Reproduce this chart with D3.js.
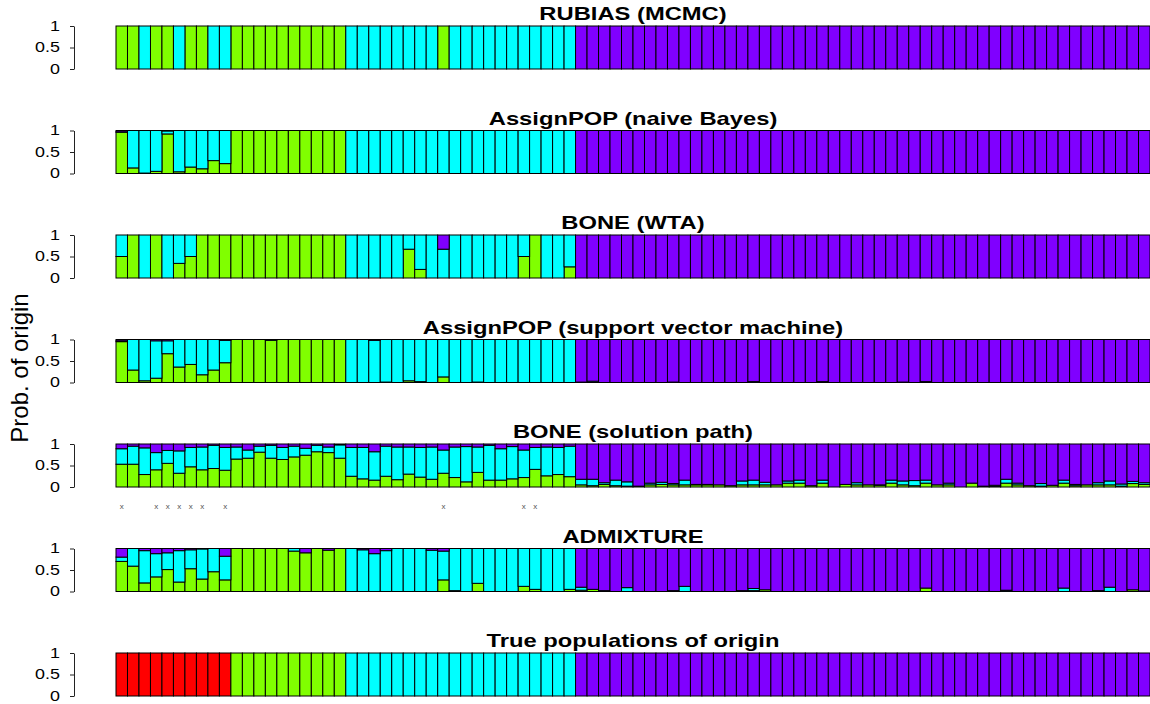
<!DOCTYPE html>
<html>
<head>
<meta charset="utf-8">
<script src="https://cdn.jsdelivr.net/npm/d3@7"></script>
<style>
  body { margin: 0; background: #fff; }
  svg { display: block; }
</style>
</head>
<body>
<svg id="chart" width="1150" height="704"></svg>
<script>
// ---- Individuals and their true populations (0 = red, 1 = green, 2 = cyan, 3 = purple) ----
const truePop = [
  0,0,0,0,0,0,0,0,0,0,
  1,1,1,1,1,1,1,1,1,1,
  2,2,2,2,2,2,2,2,2,2, 2,2,2,2,2,2,2,2,2,2,
  3,3,3,3,3,3,3,3,3,3, 3,3,3,3,3,3,3,3,3,3,
  3,3,3,3,3,3,3,3,3,3, 3,3,3,3,3,3,3,3,3,3,
  3,3,3,3,3,3,3,3,3,3
];
const individuals = truePop.map((p, i) => i);

// ---- Posterior membership (green and cyan shares; purple takes the rest) ----
const rubiasGreen = [
  1,1,0,1,1,0,1,1,0,0,
  1,1,1,1,1,1,1,1,1,1,
  0,0,0,0,0,0,0,0,1,0, 0,0,0,0,0,0,0,0,0,0,
  0,0,0,0,0,0,0,0,0,0, 0,0,0,0,0,0,0,0,0,0, 0,0,0,0,0,0,0,0,0,0,
  0,0,0,0,0,0,0,0,0,0, 0,0,0,0,0,0,0,0,0,0
];
const rubiasCyan = [
  0,0,1,0,0,1,0,0,1,1,
  0,0,0,0,0,0,0,0,0,0,
  1,1,1,1,1,1,1,1,0,1, 1,1,1,1,1,1,1,1,1,1,
  0,0,0,0,0,0,0,0,0,0, 0,0,0,0,0,0,0,0,0,0, 0,0,0,0,0,0,0,0,0,0,
  0,0,0,0,0,0,0,0,0,0, 0,0,0,0,0,0,0,0,0,0
];

const nbGreen = [
  0.96,0.13,0.01,0.05,0.92,0.04,0.15,0.11,0.30,0.23,
  1,1,1,1,1,1,1,1,1,1,
  0,0,0,0,0,0,0,0,0,0, 0,0,0,0,0,0,0,0,0,0,
  0,0,0,0,0,0,0,0,0,0, 0,0,0,0,0,0,0,0,0,0, 0,0,0,0,0,0,0,0,0,0,
  0,0,0,0,0,0,0,0,0,0, 0,0,0,0,0,0,0,0,0,0
];
const nbCyan = [
  0.01,0.87,0.99,0.95,0.07,0.96,0.85,0.89,0.70,0.77,
  0,0,0,0,0,0,0,0,0,0,
  1,1,1,1,1,1,1,1,1,1, 1,1,1,1,1,1,1,1,1,1,
  0,0,0,0,0,0,0,0,0,0, 0,0,0,0,0,0,0,0,0,0, 0,0,0,0,0,0,0,0,0,0,
  0,0,0,0,0,0,0,0,0,0, 0,0,0,0,0,0,0,0,0,0
];

const wtaGreen = [
  0.50,1,0,1,0,0.34,0.50,1,1,1,
  1,1,1,1,1,1,1,1,1,1,
  0,0,0,0,0,0.67,0.20,0,0,0, 0,0,0,0,0,0.50,1,0,0,0.26,
  0,0,0,0,0,0,0,0,0,0, 0,0,0,0,0,0,0,0,0,0, 0,0,0,0,0,0,0,0,0,0,
  0,0,0,0,0,0,0,0,0,0, 0,0,0,0,0,0,0,0,0,0
];
const wtaCyan = [
  0.50,0,1,0,1,0.66,0.50,0,0,0,
  0,0,0,0,0,0,0,0,0,0,
  1,1,1,1,1,0.33,0.80,1,0.67,1, 1,1,1,1,1,0.50,0,1,1,0.74,
  0,0,0,0,0,0,0,0,0,0, 0,0,0,0,0,0,0,0,0,0, 0,0,0,0,0,0,0,0,0,0,
  0,0,0,0,0,0,0,0,0,0, 0,0,0,0,0,0,0,0,0,0
];

const svmGreen = [
  0.95,0.29,0.04,0.10,0.67,0.36,0.42,0.18,0.29,0.46,
  1,1,1,0.98,1,1,1,1,1,1,
  0,0,0,0.01,0,0.04,0.02,0,0.13,0, 0,0.01,0,0,0,0,0,0,0,0,
  0.01,0,0,0,0,0,0,0,0.01,0, 0,0,0,0,0,0.01,0,0,0,0, 0,0,0,0,0,0,0,0,0.01,0,
  0,0,0,0,0,0,0,0,0,0, 0,0,0,0,0,0,0,0,0,0
];
const svmCyan = [
  0.02,0.71,0.96,0.87,0.30,0.64,0.58,0.82,0.71,0.52,
  0,0,0,0.02,0,0,0,0,0,0,
  1,1,0.98,0.99,1,0.96,0.98,1,0.87,1, 1,0.99,1,1,1,1,1,1,1,1,
  0,0.03,0,0,0,0,0,0,0,0, 0,0,0,0,0,0.01,0,0,0,0, 0,0.02,0,0,0,0,0,0,0,0,
  0.02,0,0,0,0,0,0,0,0,0, 0,0,0,0,0,0,0,0,0,0
];

const pathGreen = [
  0.53,0.53,0.29,0.40,0.55,0.32,0.47,0.40,0.43,0.39,
  0.65,0.67,0.81,0.67,0.64,0.70,0.74,0.82,0.80,0.67,
  0.25,0.19,0.16,0.25,0.17,0.30,0.23,0.18,0.32,0.22, 0.12,0.34,0.16,0.16,0.19,0.22,0.41,0.26,0.29,0.24,
  0.05,0.03,0.06,0.03,0.02,0.02,0.05,0.06,0.05,0.05, 0.05,0.05,0.05,0.03,0.05,0.05,0.05,0.05,0.09,0.09,
  0.03,0.09,0,0.06,0.05,0.05,0.04,0.09,0.05,0.03, 0.09,0.05,0.05,0,0.09,0.02,0.01,0.09,0.05,0.03,
  0.02,0.04,0.09,0.03,0.05,0.05,0.05,0.02,0.08,0.06
];
const pathCyan = [
  0.36,0.42,0.62,0.40,0.30,0.52,0.45,0.53,0.54,0.53,
  0.28,0.19,0.14,0.30,0.28,0.25,0.16,0.15,0.13,0.31,
  0.67,0.73,0.66,0.70,0.76,0.63,0.69,0.75,0.54,0.71, 0.82,0.59,0.81,0.73,0.75,0.64,0.51,0.67,0.63,0.71,
  0.13,0.15,0.04,0.13,0.10,0,0.04,0.05,0.03,0.11, 0.01,0.01,0,0,0.09,0.11,0.06,0,0.05,0.07,
  0,0.07,0,0,0.05,0,0.01,0.07,0.09,0.12, 0.07,0,0.04,0,0,0,0.03,0.09,0.04,0,
  0.06,0,0.07,0.03,0,0.05,0.09,0.05,0.05,0.04
];

const admixGreen = [
  0.70,0.59,0.20,0.34,0.51,0.22,0.53,0.29,0.46,0.27,
  1,1,1,1,1,0.94,0.90,1,0.96,1,
  0,0,0,0,0,0,0,0,0.27,0.02, 0,0.19,0,0,0,0.12,0.05,0,0,0.05,
  0.03,0.05,0.02,0,0,0,0,0,0.02,0, 0,0,0,0,0.02,0.02,0.04,0,0,0,
  0,0,0,0,0,0,0,0,0,0, 0.08,0,0,0,0,0,0,0.01,0,0,
  0,0,0,0,0,0.02,0,0,0.04,0.01
];
const admixCyan = [
  0.10,0.41,0.75,0.54,0.39,0.73,0.44,0.70,0.54,0.55,
  0,0,0,0,0,0.06,0,0,0,0,
  1,0.97,0.88,0.95,1,1,1,0.96,0.67,0.98, 1,0.81,1,1,1,0.88,0.95,1,1,0.95,
  0.07,0,0,0,0.09,0,0,0,0,0.12, 0,0,0,0,0,0.05,0,0,0,0,
  0,0,0,0,0,0,0,0,0,0, 0,0,0,0,0,0,0,0.02,0,0,
  0,0,0.08,0,0,0,0.10,0,0,0
];

// Individuals flagged under the solution-path panel
const flagged = [0, 3, 4, 5, 6, 7, 9, 28, 35, 36];

const panelTitles = [
  "RUBIAS (MCMC)",
  "AssignPOP (naive Bayes)",
  "BONE (WTA)",
  "AssignPOP (support vector machine)",
  "BONE (solution path)",
  "ADMIXTURE",
  "True populations of origin"
];
const yTicks = [0, 0.5, 1];
const popKeys = ["red", "green", "cyan", "purple"];
const popColors = ["#ff0000", "#80ff00", "#00ffff", "#8000ff"];

// ---- Rows for stacking ----
function membershipRows(green, cyan) {
  return individuals.map(i => ({
    id: i, red: 0, green: green[i], cyan: cyan[i],
    purple: Math.max(0, 1 - green[i] - cyan[i])
  }));
}
const truthRows = individuals.map(i => {
  const r = { id: i };
  popKeys.forEach((k, j) => r[k] = truePop[i] === j ? 1 : 0);
  return r;
});
const panelRows = [
  membershipRows(rubiasGreen, rubiasCyan),
  membershipRows(nbGreen, nbCyan),
  membershipRows(wtaGreen, wtaCyan),
  membershipRows(svmGreen, svmCyan),
  membershipRows(pathGreen, pathCyan),
  membershipRows(admixGreen, admixCyan),
  truthRows
];

// ---- Layout ----
const svg = d3.select("#chart");
const font = "'Liberation Sans', Arial, Helvetica, sans-serif";
const stretch = 1.25;          // wide lettering of the figure
const panelH = 43;

const x = d3.scaleBand().domain(individuals).range([116, 1150]).paddingInner(0).paddingOuter(0);
const panelTop = d3.scaleLinear().domain([0, panelTitles.length - 1]).range([26, 653]);
const color = d3.scaleOrdinal().domain(popKeys).range(popColors);
const stack = d3.stack().keys(popKeys);

panelTitles.forEach((title, k) => {
  const top = panelTop(k);
  const y = d3.scaleLinear().domain([0, 1]).range([top + panelH, top]);
  const g = svg.append("g");

  const series = stack(panelRows[k]);
  g.selectAll("g.layer")
    .data(series)
    .join("g")
    .attr("class", "layer")
    .attr("fill", d => color(d.key))
    .selectAll("rect")
    .data(d => d.filter(s => s[1] - s[0] > 0))
    .join("rect")
    .attr("x", d => x(d.data.id))
    .attr("width", x.bandwidth())
    .attr("y", d => y(d[1]))
    .attr("height", d => y(d[0]) - y(d[1]))
    .attr("stroke", "#000")
    .attr("stroke-width", 1);

  // y axis
  const axis = g.append("g")
    .attr("transform", "translate(74,0)")
    .call(d3.axisLeft(y).tickValues(yTicks).tickFormat(d3.format("")).tickSize(4).tickSizeOuter(0).tickPadding(7));
  axis.select(".domain").attr("stroke", "#222");
  axis.selectAll(".tick line").attr("stroke", "#222");
  axis.selectAll(".tick text")
    .attr("font-family", font)
    .attr("font-size", 14)
    .attr("fill", "#000")
    .attr("transform", `scale(1.28,1)`);

  // panel title
  svg.append("text")
    .attr("transform", `translate(633,${top - 6}) scale(${stretch},1)`)
    .attr("text-anchor", "middle")
    .attr("font-family", font)
    .attr("font-weight", "bold")
    .attr("font-size", 19)
    .attr("fill", "#000")
    .text(title);

  if (title === "BONE (solution path)") {
    svg.append("g").selectAll("text")
      .data(flagged)
      .join("text")
      .attr("x", d => x(d) + x.bandwidth() / 2)
      .attr("y", top + panelH + 22)
      .attr("text-anchor", "middle")
      .attr("font-family", font)
      .attr("font-size", 8)
      .attr("fill", "#555")
      .text("x");
  }
});

// shared y label
svg.append("text")
  .attr("transform", "translate(28,368) rotate(-90)")
  .attr("text-anchor", "middle")
  .attr("font-family", font)
  .attr("font-size", 24)
  .attr("fill", "#000")
  .text("Prob. of origin");
</script>
</body>
</html>
